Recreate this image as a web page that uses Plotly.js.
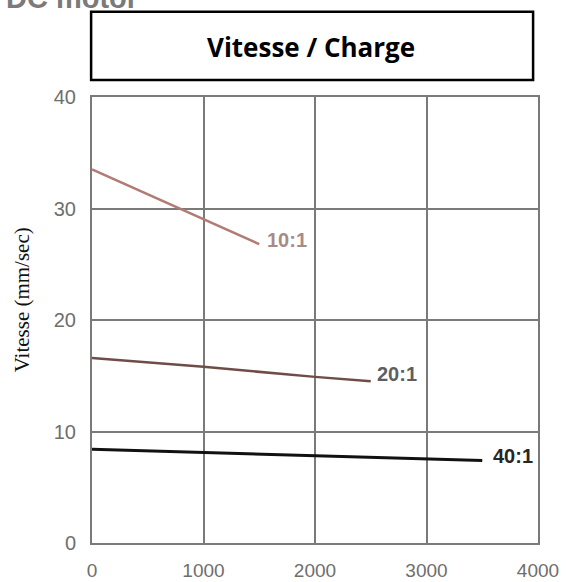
<!DOCTYPE html>
<html><head><meta charset="utf-8">
<script src="https://cdn.plot.ly/plotly-3.0.1.min.js"></script>
<style>html,body{margin:0;padding:0;background:#fff}#c{width:566px;height:582px}</style>
</head><body><div id="c"></div>
<script>
var load10 = [0, 1500];
var speed10 = [33.5, 26.8];
var load20 = [0, 1000, 2000, 2500];
var speed20 = [16.6, 15.8, 14.9, 14.5];
var load40 = [0, 1000, 2000, 3000, 3500];
var speed40 = [8.4, 8.1, 7.8, 7.5, 7.4];
var seriesNames = ["10:1", "20:1", "40:1"];
var xTicks = [0, 1000, 2000, 3000, 4000];
var yTicks = [0, 10, 20, 30, 40];

var traces = [
  {x: load10, y: speed10, mode: 'lines', name: seriesNames[0], line: {color: '#b07c74', width: 2.5}},
  {x: load20, y: speed20, mode: 'lines', name: seriesNames[1], line: {color: '#6e4d48', width: 2.5}},
  {x: load40, y: speed40, mode: 'lines', name: seriesNames[2], line: {color: '#111', width: 3}}
];

var labFont = 'Liberation Sans, Arial, sans-serif';
var layout = {
  width: 566, height: 582,
  margin: {l: 92, r: 28, t: 97, b: 39},
  paper_bgcolor: '#fff', plot_bgcolor: '#fff',
  showlegend: false,
  font: {family: labFont, color: '#6e6e6e', size: 20},
  xaxis: {range: [0, 4000], tickvals: xTicks, ticktext: xTicks.map(String), showgrid: true,
    gridcolor: '#7a7a7a', gridwidth: 2, showline: true, linecolor: '#7a7a7a', linewidth: 2, mirror: true,
    zeroline: false, ticks: 'outside', ticklen: 9, tickcolor: 'rgba(0,0,0,0)', fixedrange: true,
    tickfont: {size: 19}},
  yaxis: {range: [0, 40], tickvals: yTicks, ticktext: yTicks.map(String), showgrid: true,
    gridcolor: '#7a7a7a', gridwidth: 2, showline: true, linecolor: '#7a7a7a', linewidth: 2, mirror: true,
    zeroline: false, ticks: 'outside', ticklen: 10, tickcolor: 'rgba(0,0,0,0)'},
  shapes: [
    {type: 'rect', xref: 'paper', yref: 'paper', x0: -0.002, x1: 0.989, y0: 1.038, y1: 1.191,
      line: {color: '#000', width: 2.5}, fillcolor: 'rgba(0,0,0,0)'}
  ],
  annotations: [
    {xref: 'paper', yref: 'paper', x: 0.491, y: 1.112, text: '<b>Vitesse / Charge</b>', showarrow: false,
      font: {family: 'Open Sans, Liberation Sans, sans-serif', size: 26, color: '#000'}, xanchor: 'center', yanchor: 'middle'},
    {xref: 'paper', yref: 'paper', x: -0.155, y: 0.546, text: 'Vitesse (mm/sec)', showarrow: false, textangle: -90,
      font: {family: 'Liberation Serif, Times New Roman, serif', size: 21, color: '#111'}, xanchor: 'center', yanchor: 'middle'},
    {xref: 'paper', yref: 'paper', x: -0.197, y: 1.221, text: '<b>DC motor</b>', showarrow: false,
      font: {family: labFont, size: 29, color: '#7a7a7a'}, xanchor: 'left', yanchor: 'middle'},
    {x: 1552, y: 27.2, text: '<b>' + seriesNames[0] + '</b>', showarrow: false,
      xanchor: 'left', yanchor: 'middle', font: {size: 20, color: '#a88a86'}},
    {x: 2538, y: 15.2, text: '<b>' + seriesNames[1] + '</b>', showarrow: false,
      xanchor: 'left', yanchor: 'middle', font: {size: 20, color: '#5e5e5e'}},
    {x: 3578, y: 7.8, text: '<b>' + seriesNames[2] + '</b>', showarrow: false,
      xanchor: 'left', yanchor: 'middle', font: {size: 20, color: '#262626'}}
  ]
};

Plotly.newPlot('c', traces, layout, {staticPlot: true});
</script>
</body></html>
